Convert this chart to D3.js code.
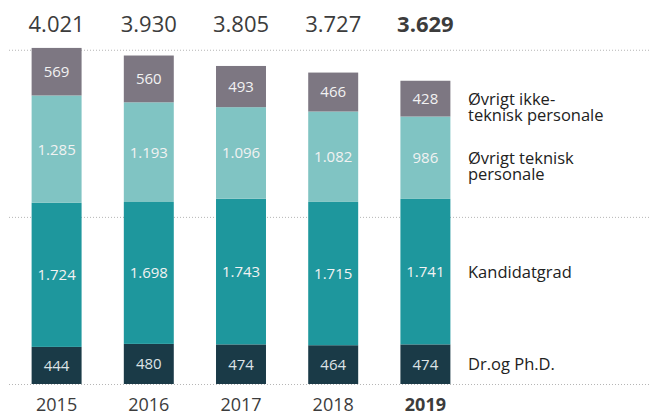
<!DOCTYPE html>
<html>
<head>
  <meta charset="utf-8">
  <style>
    body { margin: 0; background: #fff; }
    svg { font-family: "Open Sans", sans-serif; }
    .grid line {
      stroke: #b5b5b5;
      stroke-dasharray: 1,2;
    }
    .grid path { stroke-width: 0; }
    .seg-label { fill: #f2f2f2; font-size: 15px; text-anchor: middle; }
    .total { fill: #3c3c3c; font-size: 22px; text-anchor: middle; }
    .year { fill: #3c3c3c; font-size: 18px; text-anchor: middle; }
    .legend { fill: #222; font-size: 16.5px; }
  </style>
</head>
<body>
  <script src="https://d3js.org/d3.v7.min.js"></script>
  <script>
    var years = ["2015", "2016", "2017", "2018", "2019"];
    var drPhd = [444, 480, 474, 464, 474];
    var kandidat = [1724, 1698, 1743, 1715, 1741];
    var teknisk = [1285, 1193, 1096, 1082, 986];
    var ikkeTeknisk = [569, 560, 493, 466, 428];
    var totals = [4021, 3930, 3805, 3727, 3629];
    var gridTicks = [0, 2000, 4000];

    var seriesKeys = ["dr", "kand", "tek", "ikke"];
    var legendLines = [["Dr.og Ph.D."], ["Kandidatgrad"], ["Øvrigt teknisk", "personale"], ["Øvrigt ikke-", "teknisk personale"]];
    var colors = ["#1a3a47", "#1e979d", "#80c4c3", "#7d7782"];

    var width = 649, height = 412;

    var rows = years.map(function(y, i) {
      return {year: y, dr: drPhd[i], kand: kandidat[i], tek: teknisk[i], ikke: ikkeTeknisk[i], total: totals[i]};
    });

    var x = d3.scaleBand().domain(years).range([10.5, 471.5])
        .paddingInner(0.458).paddingOuter(0.229);
    var y = d3.scaleLinear().domain([0, 4021]).range([384, 48]);

    var fmt = d3.formatLocale({decimal: ",", thousands: ".", grouping: [3], currency: ["", ""]}).format(",d");

    var svg = d3.select("body").append("svg")
        .attr("width", width)
        .attr("height", height);

    // dotted gridlines
    svg.append("g")
        .attr("class", "grid")
        .attr("transform", "translate(9,0)")
        .call(d3.axisLeft(y).tickValues(gridTicks).tickSize(-(width - 9)).tickFormat(""));

    var stack = d3.stack().keys(seriesKeys)(rows);

    var layer = svg.selectAll(".layer")
      .data(stack)
      .enter().append("g")
        .attr("class", "layer")
        .attr("fill", function(d, i) { return colors[i]; });

    layer.selectAll("rect")
      .data(function(d) { return d; })
      .enter().append("rect")
        .attr("x", function(d) { return x(d.data.year); })
        .attr("y", function(d) { return y(d[1]); })
        .attr("width", x.bandwidth())
        .attr("height", function(d) { return y(d[0]) - y(d[1]); });

    layer.selectAll("text")
      .data(function(d) { return d; })
      .enter().append("text")
        .attr("class", "seg-label")
        .attr("x", function(d) { return x(d.data.year) + x.bandwidth() / 2; })
        .attr("y", function(d) { return (y(d[0]) + y(d[1])) / 2; })
        .attr("dy", "0.36em")
        .style("fill", function(d) { return d[0] === 0 ? "#dde3e6" : null; })
        .text(function(d) { return fmt(d[1] - d[0]); });

    // totals on top
    svg.selectAll(".total")
      .data(rows)
      .enter().append("text")
        .attr("class", "total")
        .attr("x", function(d) { return x(d.year) + x.bandwidth() / 2; })
        .attr("y", 31.5)
        .style("font-weight", function(d, i) { return i === rows.length - 1 ? "bold" : null; })
        .text(function(d) { return fmt(d.total); });

    // year labels
    svg.selectAll(".year")
      .data(rows)
      .enter().append("text")
        .attr("class", "year")
        .attr("x", function(d) { return x(d.year) + x.bandwidth() / 2; })
        .attr("y", 410.5)
        .style("font-weight", function(d, i) { return i === rows.length - 1 ? "bold" : null; })
        .text(function(d) { return d.year; });

    // legend next to last bar, one text per line
    var last = years.length - 1;
    stack.forEach(function(s, i) {
      var seg = s[last];
      var cy = (y(seg[0]) + y(seg[1])) / 2;
      legendLines[i].forEach(function(line, j) {
        svg.append("text")
          .attr("class", "legend")
          .attr("x", 468)
          .attr("y", cy + j * 16)
          .attr("dy", "0.36em")
          .text(line);
      });
    });
  </script>
</body>
</html>
